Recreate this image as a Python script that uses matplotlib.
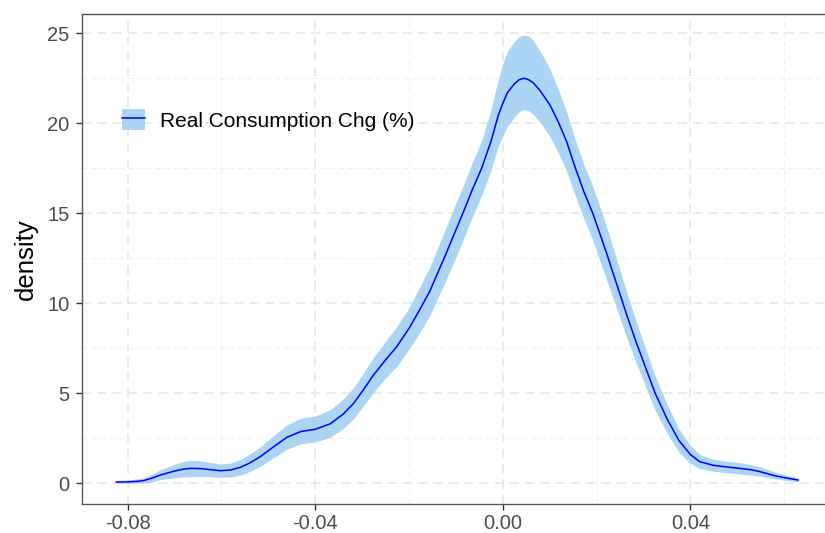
import matplotlib
matplotlib.use("Agg")
import matplotlib.pyplot as plt
from matplotlib.patches import Rectangle
from matplotlib.lines import Line2D

plt.rcParams['font.family'] = ['Liberation Sans', 'DejaVu Sans']

# data
x_vals = [-0.0824, -0.0800, -0.0780, -0.0766, -0.0750, -0.0730, -0.0700, -0.0680, -0.0666, -0.0645,
          -0.0630, -0.0602, -0.0580, -0.0559, -0.0540, -0.0517, -0.0490, -0.0460, -0.0430, -0.0400,
          -0.0368, -0.0340, -0.0318, -0.0297, -0.0276, -0.0250, -0.0226, -0.0200, -0.0180, -0.0155,
          -0.0136, -0.0125, -0.0105, -0.0085, -0.0065, -0.0045, -0.0025, -0.0010, 0.0000, 0.0010,
          0.0025, 0.0035, 0.0045, 0.0055, 0.0065, 0.0080, 0.0101, 0.0118, 0.0136, 0.0155,
          0.0173, 0.0192, 0.0208, 0.0225, 0.0245, 0.0265, 0.0285, 0.0305, 0.0325, 0.0350,
          0.0375, 0.0400, 0.0420, 0.0449, 0.0480, 0.0506, 0.0530, 0.0548, 0.0565, 0.0580,
          0.0610, 0.0630]
density = [0.07, 0.08, 0.11, 0.15, 0.27, 0.46, 0.68, 0.79, 0.83, 0.82,
           0.78, 0.70, 0.74, 0.89, 1.12, 1.48, 2.00, 2.56, 2.88, 3.00,
           3.30, 3.85, 4.44, 5.20, 6.00, 6.85, 7.59, 8.60, 9.50, 10.70,
           11.85, 12.50, 13.75, 15.00, 16.30, 17.50, 19.00, 20.40, 21.10, 21.70,
           22.20, 22.42, 22.50, 22.42, 22.25, 21.80, 21.00, 20.10, 19.00, 17.50,
           16.20, 15.00, 13.80, 12.50, 10.90, 9.30, 7.80, 6.40, 5.00, 3.60,
           2.40, 1.60, 1.20, 1.00, 0.90, 0.83, 0.75, 0.65, 0.53, 0.42,
           0.27, 0.18]
lower = [0.00, 0.00, 0.00, 0.02, 0.08, 0.20, 0.30, 0.35, 0.37, 0.38,
         0.38, 0.33, 0.35, 0.45, 0.65, 0.95, 1.40, 1.90, 2.20, 2.30,
         2.55, 3.05, 3.60, 4.30, 5.05, 5.85, 6.50, 7.45, 8.25, 9.35,
         10.45, 11.05, 12.25, 13.50, 14.80, 16.00, 17.40, 18.70, 19.30, 19.85,
         20.35, 20.65, 20.78, 20.70, 20.50, 20.05, 19.25, 18.40, 17.35, 15.95,
         14.70, 13.50, 12.30, 11.05, 9.55, 8.05, 6.65, 5.35, 4.05, 2.80,
         1.75, 1.10, 0.82, 0.67, 0.58, 0.52, 0.46, 0.40, 0.32, 0.25,
         0.14, 0.08]
upper = [0.16, 0.18, 0.24, 0.30, 0.48, 0.75, 1.05, 1.22, 1.28, 1.25,
         1.18, 1.08, 1.12, 1.33, 1.62, 2.02, 2.62, 3.25, 3.62, 3.74,
         4.08, 4.68, 5.32, 6.12, 6.98, 7.88, 8.70, 9.75, 10.75, 12.05,
         13.25, 13.95, 15.25, 16.50, 17.80, 19.05, 20.75, 22.40, 23.30, 24.00,
         24.55, 24.82, 24.90, 24.85, 24.60, 24.00, 23.00, 21.90, 20.65, 19.05,
         17.70, 16.50, 15.30, 13.95, 12.25, 10.55, 8.95, 7.45, 5.95, 4.40,
         3.05, 2.10, 1.60, 1.33, 1.22, 1.14, 1.04, 0.92, 0.77, 0.62,
         0.42, 0.28]
series_label = "Real Consumption Chg (%)"
x_major = [-0.08, -0.04, 0.00, 0.04]
x_minor = [-0.06, -0.02, 0.02, 0.06]
x_ticklabels = ["-0.08", "-0.04", "0.00", "0.04"]
y_major = [0, 5, 10, 15, 20, 25]
y_minor = [2.5, 7.5, 12.5, 17.5, 22.5]

band_color = "#ABD4F5"
line_color = "#0000FF"

fig = plt.figure(figsize=(8.25, 5.33), dpi=100)
ax = fig.add_axes([0.0994, 0.0538, 0.9091, 0.9199])

ax.set_xlim(-0.0897, 0.0702)
ax.set_ylim(-1.167, 26.07)

# grid
for v in x_major:
    ax.axvline(v, color="#E6E6E6", lw=1.1, ls=(0, (6, 4)), zorder=0)
for v in x_minor:
    ax.axvline(v, color="#EDEDED", lw=0.6, ls=(0, (6, 5)), zorder=0)
for v in y_major:
    ax.axhline(v, color="#E6E6E6", lw=1.1, ls=(0, (6, 4)), zorder=0)
for v in y_minor:
    ax.axhline(v, color="#EDEDED", lw=0.6, ls=(0, (6, 5)), zorder=0)

ax.fill_between(x_vals, lower, upper, color=band_color, lw=0, zorder=2)
ax.plot(x_vals, density, color=line_color, lw=1.1, zorder=3, solid_joinstyle='round')

ax.set_xticks(x_major)
ax.set_xticklabels(x_ticklabels)
ax.set_yticks(y_major)
ax.tick_params(axis='both', colors="#333333", labelcolor="#4D4D4D", labelsize=14.5,
               length=4, width=1.0, direction='out')
ax.tick_params(axis='x', pad=3)
ax.tick_params(axis='y', pad=5)
ax.set_ylabel("density", fontsize=18.5, color="black", labelpad=7)

for s in ax.spines.values():
    s.set_color("#555555")
    s.set_linewidth(1.0)

# legend
handle_patch = Rectangle((0, 0), 1, 1, facecolor=band_color, edgecolor='none')
handle_line = Line2D([], [], color=line_color, lw=1.1)
leg = ax.legend([(handle_patch, handle_line)], [series_label], loc='upper left',
                bbox_to_anchor=(0.0533, 0.806), frameon=False, fontsize=15,
                handlelength=1.1, handleheight=1.15, handletextpad=0.72, borderpad=0,
                borderaxespad=0)

fig.savefig("out.png", dpi=100)
